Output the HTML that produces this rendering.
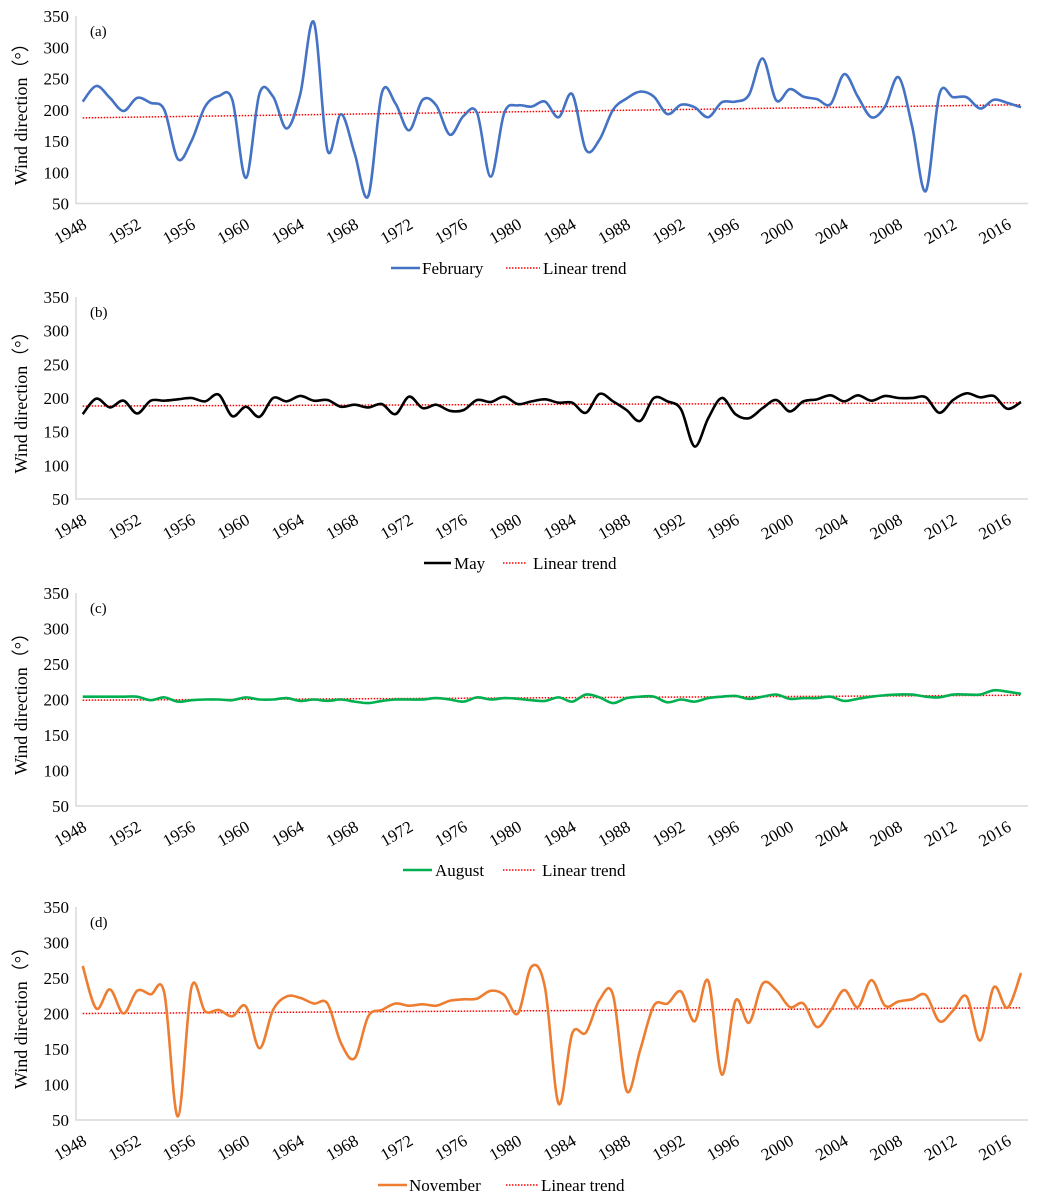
<!DOCTYPE html>
<html><head><meta charset="utf-8">
<style>
html,body{margin:0;padding:0;background:#fff;}
svg{display:block;font-family:"Liberation Serif","Times New Roman",serif;}
</style></head>
<body>
<svg id="fig" width="1042" height="1201" viewBox="0 0 1042 1201" xmlns="http://www.w3.org/2000/svg"></svg>
<script>
const years = [];
for (let y = 1948; y <= 2017; y++) years.push(y);
const yTicks = [50, 100, 150, 200, 250, 300, 350];
const xTickYears = [1948,1952,1956,1960,1964,1968,1972,1976,1980,1984,1988,1992,1996,2000,2004,2008,2012,2016];

const febValues = [213,238,219,198,219,211,200,121,150,205,222,216,91,226,221,170,225,340,135,193,130,62,227,210,167,216,207,160,190,195,93,195,207,205,213,188,225,136,152,200,218,229,221,193,208,204,188,212,213,224,282,215,233,221,217,209,257,221,188,205,252,173,70,225,220,220,202,216,211,204];
const mayValues = [176,199,186,196,177,196,196,198,200,195,205,173,187,172,200,195,203,196,197,187,190,186,191,176,202,185,190,181,182,197,194,202,191,195,198,193,193,178,206,195,182,166,200,195,183,128,170,200,176,170,185,197,180,195,198,204,195,204,196,203,200,200,201,178,197,207,201,203,184,194];
const augValues = [204,204,204,204,204,199,203,197,199,200,200,199,203,200,200,202,198,200,198,200,197,195,198,200,200,200,202,200,197,203,200,202,201,199,198,203,197,207,203,195,202,204,204,196,200,197,202,204,205,201,204,207,201,202,202,204,198,201,204,206,207,207,204,203,207,207,207,213,211,208];
const novValues = [267,207,234,200,232,227,229,55,237,203,205,196,210,151,205,224,222,214,214,158,137,196,205,214,211,213,211,218,220,221,232,226,200,266,236,73,172,173,219,226,91,149,211,214,231,189,246,114,218,187,242,233,209,214,181,204,233,209,247,211,217,220,226,189,204,224,162,237,208,257];
const febTrend = [187, 208];
const mayTrend = [188, 193];
const augTrend = [199, 206];
const novTrend = [200, 208];

const NS = "http://www.w3.org/2000/svg";
const svg = document.getElementById('fig');
function el(tag, attrs, parent) {
  const e = document.createElementNS(NS, tag);
  for (const k in attrs) e.setAttribute(k, attrs[k]);
  (parent || svg).appendChild(e);
  return e;
}

const X0 = 82.7, X1 = 1021, AXL = 76, AXR = 1028;
function xScale(year) { return X0 + (year - 1948) * (X1 - X0) / (2017 - 1948); }

const panels = [
  {key:'february', label:'(a)', values:febValues, trend:febTrend, color:'#4472C4', top:16, bot:203.5,
   legY:268, legLine:[391,420], legText:422, legName:'February', dot:[506,540], trendText:543},
  {key:'may', label:'(b)', values:mayValues, trend:mayTrend, color:'#000000', top:297, bot:499,
   legY:563, legLine:[424,451], legText:454, legName:'May', dot:[503,527], trendText:533},
  {key:'august', label:'(c)', values:augValues, trend:augTrend, color:'#00B050', top:593, bot:806,
   legY:870, legLine:[403,432], legText:435, legName:'August', dot:[503,535], trendText:542},
  {key:'november', label:'(d)', values:novValues, trend:novTrend, color:'#ED7D31', top:907, bot:1120,
   legY:1185, legLine:[378,407], legText:409, legName:'November', dot:[506,538], trendText:541}
];

panels.forEach(p => {
  const g = el('g', {});
  
  
  const yS = v => p.bot - (v - 50) * (p.bot - p.top) / 300;

  const ax = el('path', {d:`M${AXL} ${p.top}V${p.bot}H${AXR}`, fill:'none', stroke:'#D9D9D9', 'stroke-width':1.5}, g);
  
  

  yTicks.forEach(t => {
    const tx = el('text', {x:69, y:yS(t)+6, 'text-anchor':'end', 'font-size':17, fill:'#000'}, g);
    tx.textContent = t;
    
    
  });
  const cy = (p.top + p.bot) / 2;
  const yt = el('text', {x:0, y:0, transform:`translate(27 ${cy}) rotate(-90)`, 'text-anchor':'middle', 'font-size':18, fill:'#000'}, g);
  yt.textContent = 'Wind direction（°）';
  
  

  xTickYears.forEach(yr => {
    const x = xScale(yr) + 5, y = p.bot + 24;
    const tx = el('text', {x:0, y:0, transform:`translate(${x} ${y}) rotate(-30)`, 'text-anchor':'end', 'font-size':17, fill:'#000'}, g);
    tx.textContent = yr;
    
    
  });

  const pl = el('text', {x:90, y:p.top+20, 'font-size':15, fill:'#000'}, g);
  pl.textContent = p.label;
  
  

  const tr = el('line', {x1:xScale(1948), y1:yS(p.trend[0]), x2:xScale(2017), y2:yS(p.trend[1]), stroke:'#FF0000', 'stroke-width':1.5, 'stroke-dasharray':'1.5 1.5'}, g);
  
  

  const pts = p.values.map((v, i) => [xScale(years[i]), yS(v)]);
  let d = `M${pts[0][0]} ${pts[0][1]}`;
  for (let i = 0; i < pts.length - 1; i++) {
    const p0 = pts[Math.max(0, i-1)], p1 = pts[i], p2 = pts[i+1], p3 = pts[Math.min(pts.length-1, i+2)];
    const c1x = p1[0] + (p2[0]-p0[0])/6, c1y = p1[1] + (p2[1]-p0[1])/6;
    const c2x = p2[0] - (p3[0]-p1[0])/6, c2y = p2[1] - (p3[1]-p1[1])/6;
    d += `C${c1x} ${c1y} ${c2x} ${c2y} ${p2[0]} ${p2[1]}`;
  }
  const ln = el('path', {d, fill:'none', stroke:p.color, 'stroke-width':2.6, 'stroke-linejoin':'round'}, g);
  
  

  const lg = el('g', {}, g);
  
  
  const l1 = el('line', {x1:p.legLine[0], y1:p.legY, x2:p.legLine[1], y2:p.legY, stroke:p.color, 'stroke-width':2.6}, lg);
  
  
  const t1 = el('text', {x:p.legText, y:p.legY+6, 'font-size':17, fill:'#000'}, lg);
  t1.textContent = p.legName;
  
  
  const l2 = el('line', {x1:p.dot[0], y1:p.legY, x2:p.dot[1], y2:p.legY, stroke:'#FF0000', 'stroke-width':1.5, 'stroke-dasharray':'1.5 1.5'}, lg);
  
  
  const t2 = el('text', {x:p.trendText, y:p.legY+6, 'font-size':17, fill:'#000'}, lg);
  t2.textContent = 'Linear trend';
  
  
});
</script>
</body></html>
